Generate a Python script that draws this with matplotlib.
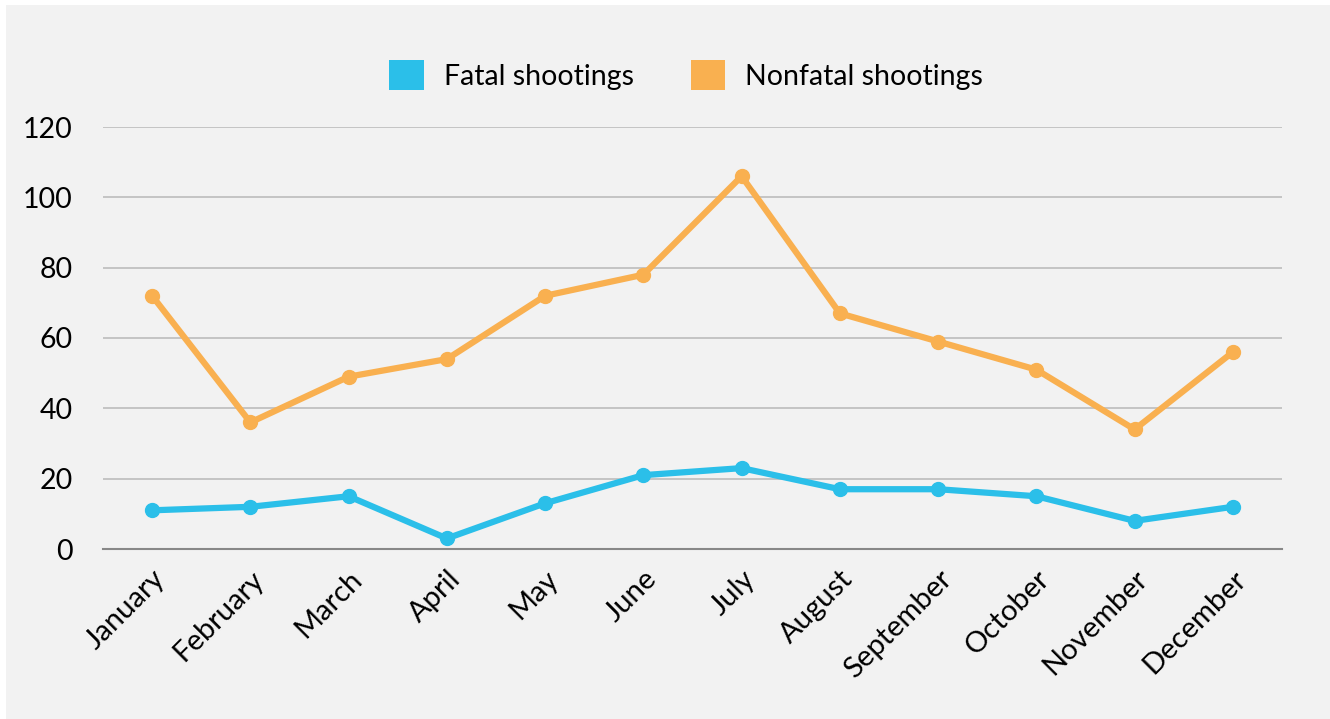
import matplotlib.pyplot as plt
from matplotlib.patches import Rectangle

months = ["January", "February", "March", "April", "May", "June", "July",
          "August", "September", "October", "November", "December"]
fatal = [11, 12, 15, 3, 13, 21, 23, 17, 17, 15, 8, 12]
nonfatal = [72, 36, 49, 54, 72, 78, 106, 67, 59, 51, 34, 56]
yticks = [0, 20, 40, 60, 80, 100, 120]

blue = "#2bbfe9"
orange = "#f9b050"
bg = "#f2f2f2"

plt.rcParams['font.family'] = ['Lato', 'DejaVu Sans']

fig = plt.figure(figsize=(13.3, 7.19), dpi=100, facecolor="white")
fig.patches.append(Rectangle((6 / 1330, 0), 1, 1 - 5 / 719, transform=fig.transFigure,
                             facecolor=bg, edgecolor="none", zorder=-1))

ax = fig.add_axes([103 / 1330, 1 - 549 / 719, 1179 / 1330, 422 / 719])
ax.set_facecolor(bg)
x = range(len(months))
ax.plot(x, fatal, color=blue, lw=4.5, marker="o", ms=10, label="Fatal shootings",
        solid_capstyle="round", zorder=3)
ax.plot(x, nonfatal, color=orange, lw=4.5, marker="o", ms=10, label="Nonfatal shootings",
        solid_capstyle="round", zorder=3)

ax.set_xlim(-0.5, 11.5)
ax.set_ylim(0, 120)
ax.set_yticks(yticks)
ax.set_xticks(list(x))
ax.set_xticklabels(months, rotation=45, ha="right", rotation_mode="anchor")
ax.tick_params(length=0, labelsize=20.5, pad=12)
ax.tick_params(axis="x", labelsize=21)
ax.tick_params(axis="y", pad=22)
ax.grid(axis="y", color="#bdbdbd", lw=1.2)
ax.set_axisbelow(True)
for s in ["top", "right", "left"]:
    ax.spines[s].set_visible(False)
ax.spines["bottom"].set_color("#888888")
ax.spines["bottom"].set_linewidth(1.5)

handles = [Rectangle((0, 0), 1, 1, facecolor=blue),
           Rectangle((0, 0), 1, 1, facecolor=orange)]
fig.legend(handles, ["Fatal shootings", "Nonfatal shootings"], loc="center",
           bbox_to_anchor=(686 / 1330, 1 - 75 / 719), ncol=2, frameon=False,
           fontsize=20.5, handlelength=1.2, handleheight=1.2, handletextpad=0.7,
           columnspacing=2.0)

fig.savefig("out.png", dpi=100, facecolor="white")
